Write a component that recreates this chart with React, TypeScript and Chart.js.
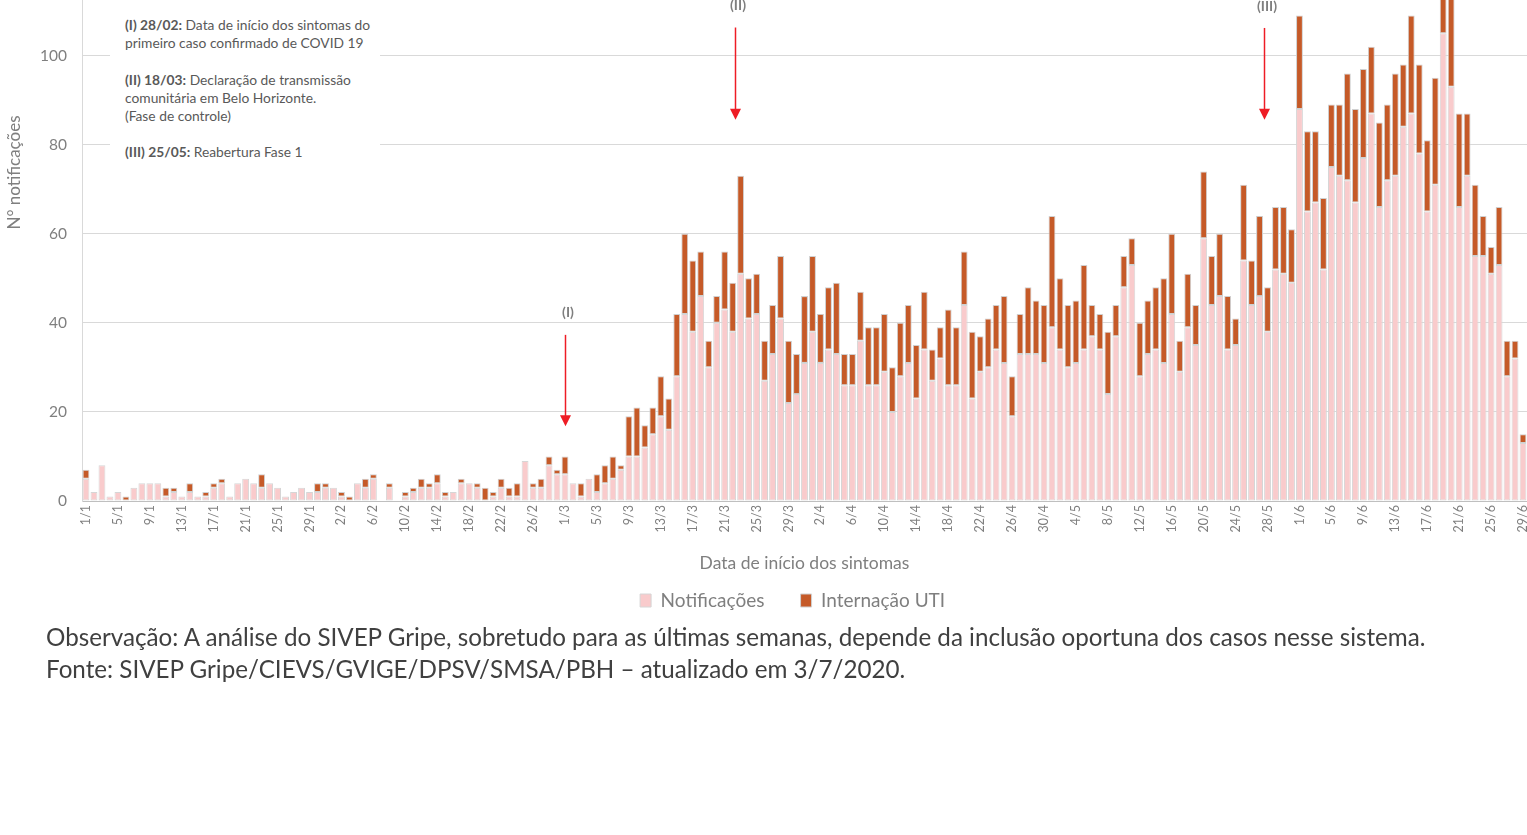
import React, { useEffect, useRef } from 'react';
import { Chart, registerables } from 'chart.js';

Chart.register(...registerables);

// ---- categories (1/1 .. 29/6, 2020) ----
const monthLengths = [31, 29, 31, 30, 31, 29];
const categories: string[] = [];
monthLengths.forEach((len, m) => {
  for (let d = 1; d <= len; d++) categories.push(`${d}/${m + 1}`);
});

// ---- series: Notificações (light pink, bottom) ----
const notifJan = [5, 2, 8, 1, 2, 0, 3, 4, 4, 4, 1, 2, 1, 2, 1, 1, 3, 4, 1, 4, 5, 4, 3, 4, 3, 1, 2, 3, 2, 2, 3];
const notifFeb = [3, 1, 0, 4, 3, 5, 0, 3, 0, 1, 2, 3, 3, 4, 1, 2, 4, 4, 3, 0, 1, 3, 1, 1, 9, 3, 3, 8, 6];
const notifMar = [6, 4, 1, 5, 2, 4, 5, 7, 10, 10, 12, 15, 19, 16, 28, 42, 38, 46, 30, 40, 43, 38, 51, 41, 42, 27, 33, 41, 22, 24, 31];
const notifApr = [38, 31, 34, 33, 26, 26, 36, 26, 26, 29, 20, 28, 31, 23, 34, 27, 32, 26, 26, 44, 23, 29, 30, 34, 31, 19, 33, 33, 33, 31];
const notifMay = [39, 34, 30, 31, 34, 37, 34, 24, 37, 48, 53, 28, 33, 34, 31, 42, 29, 39, 35, 59, 44, 46, 34, 35, 54, 44, 46, 38, 52, 51, 49];
const notifJun = [88, 65, 67, 52, 75, 73, 72, 67, 77, 87, 66, 72, 73, 84, 87, 78, 65, 71, 105, 93, 66, 73, 55, 55, 51, 53, 28, 32, 13];

// ---- series: Internação UTI (dark orange, stacked on top) ----
const utiJan = [2, 0, 0, 0, 0, 1, 0, 0, 0, 0, 2, 1, 0, 2, 0, 1, 1, 1, 0, 0, 0, 0, 3, 0, 0, 0, 0, 0, 0, 2, 1];
const utiFeb = [0, 1, 1, 0, 2, 1, 0, 1, 0, 1, 1, 2, 1, 2, 1, 0, 1, 0, 1, 3, 1, 2, 2, 3, 0, 1, 2, 2, 1];
const utiMar = [4, 0, 3, 0, 4, 4, 5, 1, 9, 11, 5, 6, 9, 7, 14, 18, 16, 10, 6, 6, 13, 11, 22, 9, 9, 9, 11, 14, 14, 9, 15];
const utiApr = [17, 11, 14, 16, 7, 7, 11, 13, 13, 13, 10, 12, 13, 12, 13, 7, 7, 17, 13, 12, 15, 8, 11, 10, 15, 9, 9, 15, 12, 13];
const utiMay = [25, 16, 14, 14, 19, 7, 8, 14, 7, 7, 6, 12, 12, 14, 19, 18, 7, 12, 9, 15, 11, 14, 12, 6, 17, 10, 18, 10, 14, 15, 12];
const utiJun = [21, 18, 16, 16, 14, 16, 24, 21, 20, 15, 19, 17, 23, 14, 22, 20, 16, 24, 14, 22, 21, 14, 16, 9, 6, 13, 8, 4, 2];

const notificacoes = [...notifJan, ...notifFeb, ...notifMar, ...notifApr, ...notifMay, ...notifJun];
const internacaoUTI = [...utiJan, ...utiFeb, ...utiMar, ...utiApr, ...utiMay, ...utiJun];

// ---- y ticks ----
const yStep = 20;
const yMax = 147.5;

// ---- event markers (category index, values in y units) ----
const markerLabels = ['(I)', '(II)', '(III)'];
const markerIndex = [60, 81.3, 147.5];
const markerLabelY = [42.4, 111.3, 111.0];
const markerLineTop = [37.3, 106.3, 106.2];
const markerTip = [16.8, 85.6, 85.6];

const GRAY = '#7f7f7f';
const FONT = 'Lato';

const arrowPlugin = {
  id: 'eventArrows',
  afterDatasetsDraw(chart: any) {
    const { ctx, scales } = chart;
    const x = scales.x;
    const y = scales.y;
    ctx.save();
    markerLabels.forEach((lab, k) => {
      const px = Math.round(x.getPixelForValue(markerIndex[k])) + 0.5;
      const yTop = y.getPixelForValue(markerLineTop[k]);
      const yTip = y.getPixelForValue(markerTip[k]);
      ctx.strokeStyle = '#ee1c25';
      ctx.fillStyle = '#ee1c25';
      ctx.lineWidth = 1.5;
      ctx.beginPath();
      ctx.moveTo(px, yTop);
      ctx.lineTo(px, yTip - 9);
      ctx.stroke();
      ctx.beginPath();
      ctx.moveTo(px - 5.5, yTip - 11);
      ctx.lineTo(px + 5.5, yTip - 11);
      ctx.lineTo(px, yTip);
      ctx.closePath();
      ctx.fill();
      ctx.font = `bold 14px ${FONT}`;
      ctx.fillStyle = GRAY;
      ctx.textAlign = 'center';
      ctx.textBaseline = 'middle';
      ctx.fillText(lab, px + 2.5, y.getPixelForValue(markerLabelY[k]));
    });
    ctx.restore();
  },
};

export default function App() {
  const canvasRef = useRef<HTMLCanvasElement | null>(null);

  useEffect(() => {
    if (!canvasRef.current) return;
    Chart.defaults.font.family = FONT;
    const chart = new Chart(canvasRef.current, {
      type: 'bar',
      data: {
        labels: categories,
        datasets: [
          {
            label: 'Notificações',
            data: notificacoes,
            backgroundColor: '#f9cbcc',
            borderColor: '#d6d6d6',
            borderWidth: 1,
            borderSkipped: false,
            barPercentage: 0.86,
            categoryPercentage: 1,
          },
          {
            label: 'Internação UTI',
            data: internacaoUTI,
            backgroundColor: '#c55a28',
            borderColor: '#d0d0d0',
            borderWidth: 1,
            borderSkipped: false,
            barPercentage: 0.86,
            categoryPercentage: 1,
          },
        ],
      },
      options: {
        responsive: false,
        maintainAspectRatio: false,
        animation: false,
        layout: { padding: 0 },
        scales: {
          x: {
            stacked: true,
            grid: { display: false, drawTicks: false },
            border: { display: true, color: '#bfbfbf', width: 1 },
            ticks: {
              autoSkip: false,
              minRotation: 90,
              maxRotation: 90,
              padding: 4,
              color: GRAY,
              font: { family: FONT, size: 12.5 },
              callback: (_v: any, i: number) => (i % 4 === 0 ? categories[i] : ''),
            },
            title: {
              display: true,
              text: 'Data de início dos sintomas',
              color: GRAY,
              font: { family: FONT, size: 17.5 },
              padding: { top: 0, bottom: 7 },
            },
            afterFit: (s: any) => {
              s.height = 80;
              s.paddingLeft = 0;
              s.paddingRight = 0;
            },
          },
          y: {
            stacked: true,
            min: 0,
            max: yMax,
            grid: { color: '#d9d9d9', drawTicks: false, lineWidth: 1 },
            border: { display: true, color: '#d9d9d9' },
            ticks: {
              stepSize: yStep,
              includeBounds: false,
              padding: 15,
              color: GRAY,
              font: { family: FONT, size: 15.5 },
            },
            title: {
              display: true,
              text: 'N° notificações',
              color: GRAY,
              font: { family: FONT, size: 17 },
              padding: { top: 4, bottom: 4 },
            },
            afterFit: (s: any) => {
              s.width = 82;
              s.paddingTop = 0;
              s.paddingBottom = 0;
            },
          },
        },
        plugins: {
          legend: {
            position: 'bottom',
            fullSize: false,
            labels: {
              boxWidth: 11,
              boxHeight: 13,
              padding: 10,
              color: GRAY,
              font: { family: FONT, size: 19 },
              generateLabels: (c: any) => {
                const items = (Chart.defaults.plugins.legend.labels as any).generateLabels(c);
                if (items[0]) items[0].text = items[0].text + '\u2003\u2002\u2009';
                if (items[1]) items[1].text = items[1].text + '\u2003\u2002';
                return items;
              },
            },
          },
          tooltip: { enabled: false },
        },
      },
      plugins: [arrowPlugin],
    } as any);
    return () => chart.destroy();
  }, []);

  const noteStyle: React.CSSProperties = {
    position: 'fixed',
    left: 110,
    top: 0,
    width: 270,
    height: 170,
    background: '#ffffff',
    boxSizing: 'border-box',
    paddingLeft: 15,
    paddingTop: 16,
    fontFamily: FONT,
    fontSize: 13.8,
    lineHeight: '18.2px',
    color: '#595959',
    whiteSpace: 'nowrap',
  };

  return (
    <div>
      <canvas
        ref={canvasRef}
        width={1527}
        height={776}
        style={{ position: 'fixed', left: 0, top: -156, width: 1527, height: 776 }}
      />
      <div style={noteStyle}>
        <div><b>(I) 28/02:</b> Data de início dos sintomas do</div>
        <div>primeiro caso confirmado de COVID 19</div>
        <div>&nbsp;</div>
        <div><b>(II) 18/03:</b> Declaração de transmissão</div>
        <div>comunitária em Belo Horizonte.</div>
        <div>(Fase de controle)</div>
        <div>&nbsp;</div>
        <div><b>(III) 25/05:</b> Reabertura Fase 1</div>
      </div>
      <div
        style={{
          position: 'fixed',
          left: 46,
          top: 621,
          fontFamily: FONT,
          fontSize: 24.2,
          lineHeight: '32px',
          color: '#404040',
          whiteSpace: 'nowrap',
        }}
      >
        <div>Observação: A análise do SIVEP Gripe, sobretudo para as últimas semanas, depende da inclusão oportuna dos casos nesse sistema.</div>
        <div>Fonte: SIVEP Gripe/CIEVS/GVIGE/DPSV/SMSA/PBH – atualizado em 3/7/2020.</div>
      </div>
    </div>
  );
}
